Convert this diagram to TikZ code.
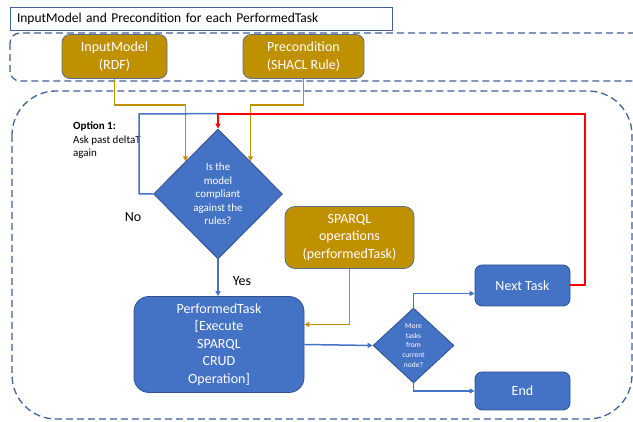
\documentclass[tikz,border=0pt]{standalone}
\usepackage{fontspec}
\setmainfont{Carlito}
\usepackage{xcolor}
\usetikzlibrary{shapes.geometric,arrows.meta}

\definecolor{taskblue}{HTML}{4472C4}
\definecolor{edgeblue}{HTML}{2F528F}
\definecolor{dashblue}{HTML}{41609A}
\definecolor{gold}{HTML}{BF9000}
\definecolor{goldedge}{HTML}{5B6F8F}
\definecolor{flowred}{RGB}{255,0,0}

\begin{document}
\begin{tikzpicture}[x=1pt,y=-1pt,
  box/.style={draw,line width=0.8pt,inner sep=0pt,align=center,text=white,font=\fontsize{14}{17.5}\selectfont},
  goldbox/.style={box,draw=goldedge,fill=gold,rounded corners=8pt},
  bluebox/.style={box,draw=edgeblue,fill=taskblue,rounded corners=7pt},
  decision/.style={diamond,draw=edgeblue,line width=0.8pt,fill=taskblue,inner sep=0pt,align=center,text=white},
  goldflow/.style={color=gold,line width=1.5pt,-{Triangle[length=5pt,width=5pt]}},
  blueflow/.style={color=taskblue,line width=1.5pt,-{Triangle[length=5pt,width=5pt]}},
  redflow/.style={color=flowred,line width=2pt,-{Triangle[length=5pt,width=5pt]}},
  region/.style={draw=dashblue,line width=1.3pt,dash pattern=on 7pt off 4pt}]

\useasboundingbox (0,0) rectangle (633,422);

% regions
\node (title) at (201,18.5) [draw=dashblue,line width=0.8pt,minimum width=382pt,minimum height=23pt,inner sep=0pt,text width=368pt,align=left,font=\fontsize{13.5}{16}\selectfont] {InputModel and Precondition for each PerformedTask};
\draw[region] (10,33) [rounded corners=10pt] rectangle (660,81);
\draw[region] (12,91) [rounded corners=44pt] rectangle (632,419);

% inputs
\node (inmodel) at (114.5,56.5) [goldbox,minimum width=105pt,minimum height=44pt] {InputModel\\(RDF)};
\node (precond) at (303.5,56.5) [goldbox,minimum width=121pt,minimum height=44pt] {Precondition\\(SHACL Rule)};
\node (sparql) at (349.5,237.5) [goldbox,minimum width=129pt,minimum height=62pt,rounded corners=10pt] {SPARQL\\operations\\(performedTask)};

% decisions
\node (comply) at (218,194) [decision,minimum width=129pt,minimum height=130pt,font=\fontsize{11}{13.5}\selectfont] {Is the\\model\\compliant\\against the\\rules?};
\node (more) at (413.5,345.5) [decision,minimum width=81pt,minimum height=75pt,font=\fontsize{7.5}{9.7}\selectfont] {More\\tasks\\from\\current\\node?};

% tasks
\node (task) at (219,344.5) [bluebox,minimum width=170pt,minimum height=96pt,rounded corners=15pt] {PerformedTask\\{}[Execute\\SPARQL\\CRUD\\Operation]};
\node (next) at (522.5,285.5) [bluebox,minimum width=95pt,minimum height=41pt] {Next Task};
\node (end) at (522.5,391) [bluebox,minimum width=95pt,minimum height=38pt] {End};

% labels
\node (option) at (73,122) [anchor=north west,align=left,inner sep=0pt,font=\fontsize{11}{13.5}\selectfont] {\textbf{Option 1:}\\Ask past deltaT\\again};
\node (no) at (133,217) [font=\fontsize{14}{16}\selectfont] {No};
\node (yes) at (242,281) [font=\fontsize{14}{16}\selectfont] {Yes};

% connectors
\coordinate (join) at ([yshift=15pt]comply.north);
\coordinate (turn) at ([xshift=15pt]next.east);
\draw[goldflow] (inmodel.south) |- (150,105) -| (comply.north west);
\draw[goldflow] (precond.south) |- (280,105) -| (comply.north east);
\draw[blueflow,-] (comply.west) -| (139,114) -- (join);
\draw[redflow] (next.east) -- (turn) |- (join) -- (comply.north);
\draw[blueflow] (comply.south) -- (comply.south |- task.north);
\draw[goldflow] (sparql.south) |- ([yshift=20pt]task.east);
\draw[blueflow] (task.east) -- (more.west);
\draw[blueflow] (more.north) |- ([yshift=-8pt]next.west);
\draw[blueflow] (more.south) |- (end.west);

\end{tikzpicture}
\end{document}
